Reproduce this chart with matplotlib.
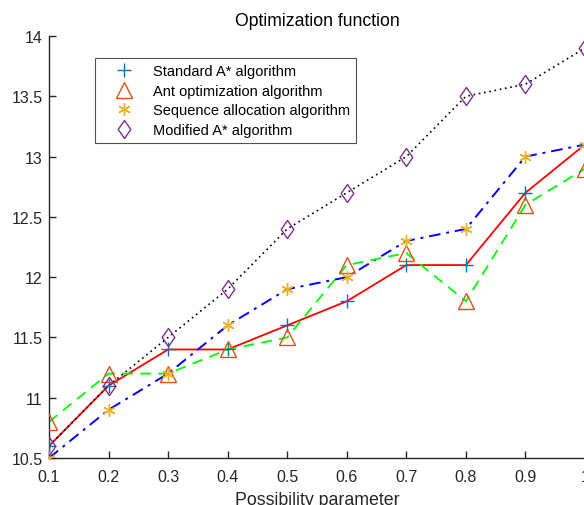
import numpy as np
import matplotlib
matplotlib.use("Agg")
import matplotlib.pyplot as plt
from matplotlib.ticker import FuncFormatter
from matplotlib.path import Path

plt.rcParams['font.family'] = ['Liberation Sans', 'DejaVu Sans']

# possibility parameter
x = [0.1, 0.2, 0.3, 0.4, 0.5, 0.6, 0.7, 0.8, 0.9, 1.0]

# optimization function values per algorithm
standard_astar = [10.6, 11.1, 11.4, 11.4, 11.6, 11.8, 12.1, 12.1, 12.7, 13.1]
ant_opt = [10.8, 11.2, 11.2, 11.4, 11.5, 12.1, 12.2, 11.8, 12.6, 12.9]
seq_alloc = [10.5, 10.9, 11.2, 11.6, 11.9, 12.0, 12.3, 12.4, 13.0, 13.1]
modified_astar = [10.6, 11.1, 11.5, 11.9, 12.4, 12.7, 13.0, 13.5, 13.6, 13.9]

labels = ["Standard A* algorithm", "Ant optimization algorithm",
          "Sequence allocation algorithm", "Modified A* algorithm"]

# matlab-ish diamond (wider than mpl 'd')
diamond = Path([(0, 1), (0.7, 0), (0, -1), (-0.7, 0), (0, 1)],
               [Path.MOVETO, Path.LINETO, Path.LINETO, Path.LINETO, Path.CLOSEPOLY])

fig = plt.figure(figsize=(5.84, 5.06), dpi=100)
ax = fig.add_axes([49 / 584, 47 / 506, 536 / 584, 422 / 506])

# lines (matlab style colours, no legend)
ax.plot(x, standard_astar, 'r-', lw=1.3, zorder=2)
ax.plot(x, seq_alloc, color='b', ls=(0, (6, 3, 1.5, 3)), lw=1.4, zorder=2)
ax.plot(x, ant_opt, color='#00ff00', ls=(0, (6, 4)), lw=1.3, zorder=2)
ax.plot(x, modified_astar, color='k', ls=(0, (1, 2.2)), lw=1.2, zorder=2)

# markers on top, these go in the legend
ax.plot(x, standard_astar, ls='none', marker='+', ms=10, mew=1.0,
        color='#0072BD', label=labels[0], zorder=3)
ax.plot(x, ant_opt, ls='none', marker='^', ms=11, mew=1.0,
        mfc='none', mec='#D95319', label=labels[1], zorder=3)
ax.plot(x, seq_alloc, ls='none', marker=(6, 2, 0), ms=9, mew=1.0,
        color='#EDB120', label=labels[2], zorder=3)
ax.plot(x, modified_astar, ls='none', marker=diamond, ms=13, mew=1.0,
        mfc='none', mec='#7E2F8E', label=labels[3], zorder=3)

ax.set_xlim(0.1, 1.0)
ax.set_ylim(10.5, 14)
ax.set_xticks(x)
ax.set_yticks(np.arange(10.5, 14.01, 0.5))
ax.xaxis.set_major_formatter(FuncFormatter(lambda v, p: '%g' % round(v, 2)))
ax.yaxis.set_major_formatter(FuncFormatter(lambda v, p: '%g' % round(v, 2)))

for s in ['top', 'right']:
    ax.spines[s].set_visible(False)
for s in ['left', 'bottom']:
    ax.spines[s].set_color('#262626')
    ax.spines[s].set_linewidth(1.0)
ax.tick_params(direction='in', length=5, width=1.0, colors='#262626',
               labelsize=11.5)
ax.tick_params(axis='x', pad=8)
ax.tick_params(axis='y', pad=4.5)

ax.set_title("Optimization function", fontsize=12.7, color='#000000', pad=8)
ax.set_xlabel("Possibility parameter", fontsize=12.8, color='#262626', labelpad=5)

leg = ax.legend(loc='upper left', bbox_to_anchor=(0.086, 0.948), fontsize=10.5,
                frameon=True, fancybox=False, edgecolor='#262626',
                handlelength=3.15, handletextpad=0.4, labelspacing=0.4,
                borderpad=0.4, borderaxespad=0)
leg.get_frame().set_linewidth(0.8)

fig.savefig("out.png", dpi=100)
